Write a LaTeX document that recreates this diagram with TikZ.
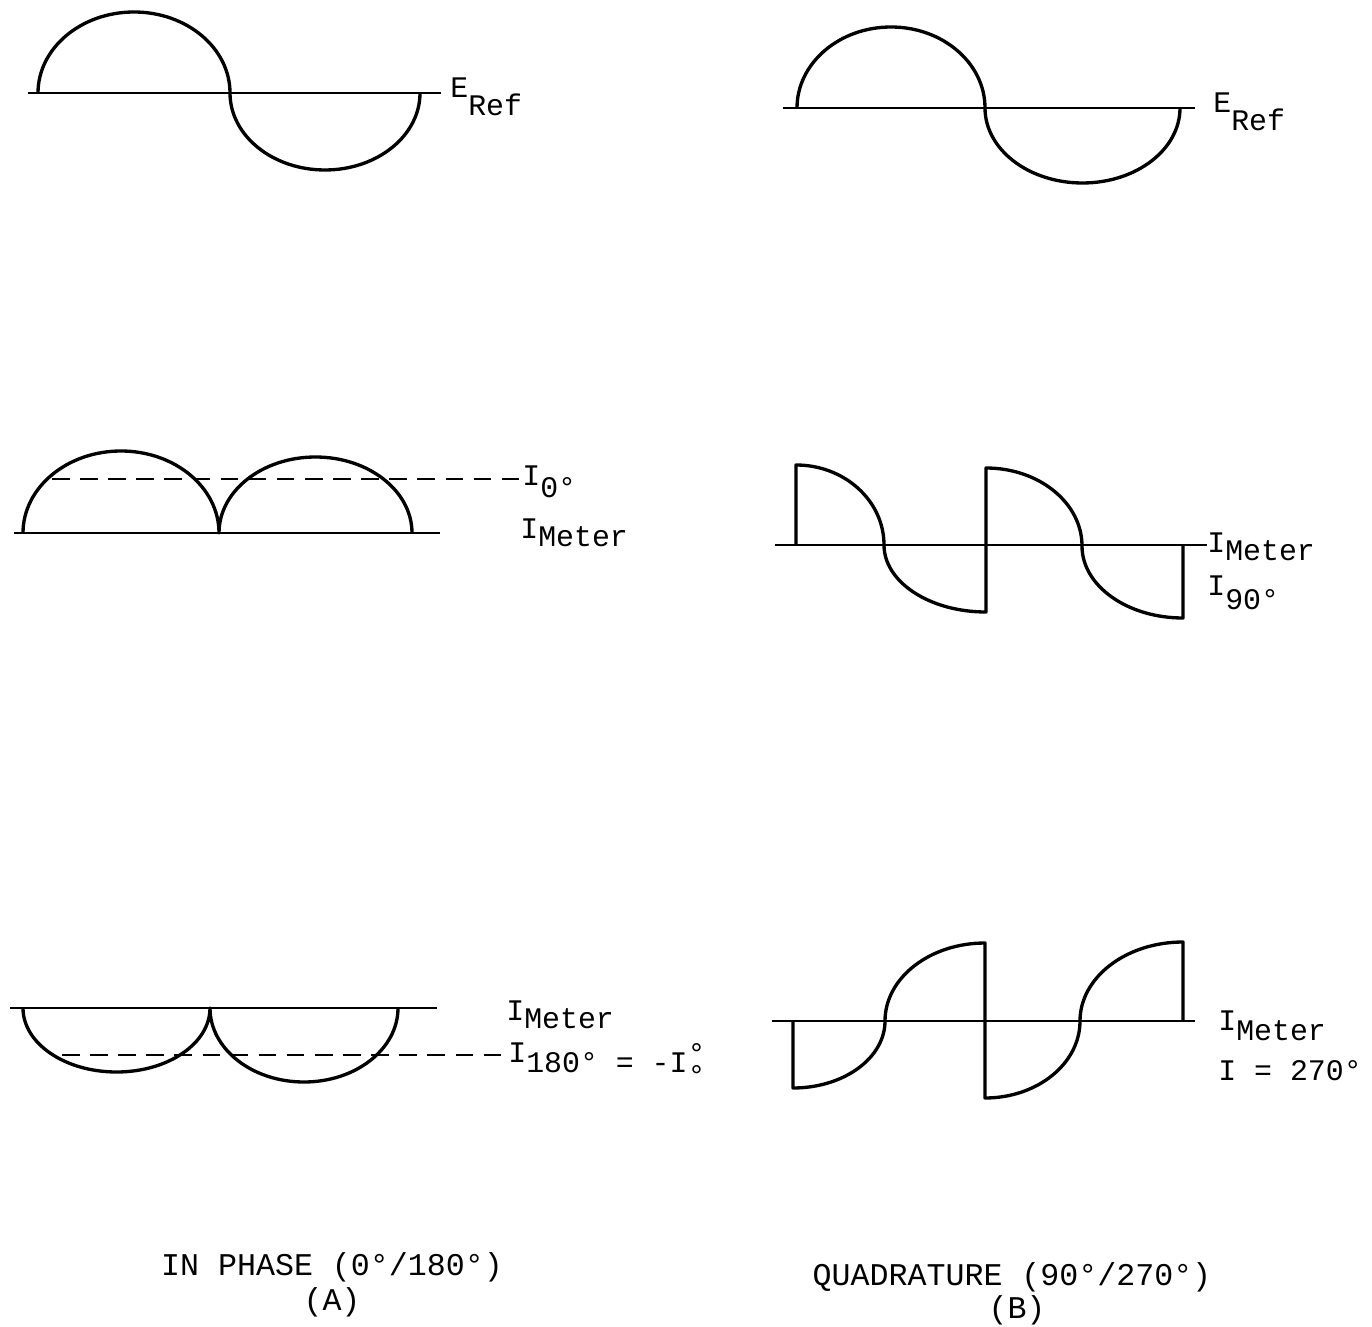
\documentclass[tikz,border=0pt]{standalone}
\usepackage{fontspec}
\setmainfont{Liberation Mono}
\newcommand{\dn}[2][5pt]{\raisebox{-#1}{#2}}
\tikzset{
  wave/.style={line width=1.9pt, line join=round},
  axis/.style={line width=1.5pt},
  meanline/.style={line width=1.6pt, dash pattern=on 10pt off 6pt},
  lbl/.style={anchor=base west, inner sep=0pt, font=\fontsize{17}{20}\selectfont},
  caption/.style={anchor=base, inner sep=0pt, font=\fontsize{18}{22}\selectfont}
}
\begin{document}
\begin{tikzpicture}[x=0.02cm, y=0.02cm]
    \useasboundingbox (0,0) rectangle (1372,-1327);
    % (A) In phase: reference voltage
    \draw[axis] (28,-93) coordinate (ra) -- (441,-93) coordinate (rb);
    \draw[wave] (38,-93) arc[start angle=180, end angle=0, x radius=96, y radius=81]
                         arc[start angle=180, end angle=360, x radius=95, y radius=77];
    \node[lbl] (erefA) at (450,-98) {E\dn[10pt]{Ref}};
    % (A) In phase: meter current, 0 deg
    \draw[axis] (14,-533) coordinate (ma) -- (440,-533) coordinate (mb);
    \draw[wave] (23,-533) arc[start angle=180, end angle=0, x radius=98, y radius=82]
                          arc[start angle=180, end angle=0, x radius=96.5, y radius=76];
    \node[lbl] (izero) at (522,-485) {I\dn[7pt]{0°}};
    \node[lbl] (imeterA) at (520,-538) {I\dn[5pt]{Meter}};
    \coordinate (dzero) at (52,-479);
    \draw[meanline] (dzero) -- (dzero -| izero.west);
    % (A) In phase: meter current, 180 deg
    \draw[axis] (10,-1008) coordinate (na) -- (437,-1008) coordinate (nb);
    \draw[wave] (23,-1008) arc[start angle=180, end angle=360, x radius=93.5, y radius=64]
                           arc[start angle=180, end angle=360, x radius=94, y radius=74];
    \node[lbl] (imeterC) at (506,-1020) {I\dn[5pt]{Meter}};
    \node[lbl] (ieighty) at (508,-1062) {I\dn[6pt]{180° = -I\rlap{\raisebox{5pt}{°}}\raisebox{-0.45em}{°}}};
    \coordinate (deighty) at (62,-1055);
    \draw[meanline] (deighty) -- (deighty -| ieighty.west);
    % (B) Quadrature: reference voltage
    \draw[axis] (783,-108) coordinate (qa) -- (1195,-108) coordinate (qb);
    \draw[wave] (797,-108) arc[start angle=180, end angle=0, x radius=94, y radius=81]
                           arc[start angle=180, end angle=360, x radius=97.5, y radius=75];
    \node[lbl] (erefB) at (1213,-113) {E\dn[10pt]{Ref}};
    % (B) Quadrature: meter current, 90 deg
    \node[lbl] (imeterB) at (1207,-552) {I\dn[5pt]{Meter}};
    \node[lbl] (ininety) at (1207,-595) {I\dn[8pt]{90°}};
    \coordinate (pa) at (775,-545);
    \draw[axis] (pa) -- (pa -| imeterB.west);
    \draw[wave] (796,-545) -- (796,-465)
                arc[start angle=90, end angle=0, x radius=88, y radius=80]
                arc[start angle=180, end angle=270, x radius=102, y radius=67] -- (986,-468)
                arc[start angle=90, end angle=0, x radius=96, y radius=78]
                arc[start angle=180, end angle=270, x radius=101, y radius=72] -- (1183,-545);
    % (B) Quadrature: meter current, 270 deg
    \draw[axis] (772,-1021) coordinate (sa) -- (1195,-1021) coordinate (sb);
    \draw[wave] (793,-1021) -- (793,-1088)
                arc[start angle=270, end angle=360, x radius=92, y radius=67]
                arc[start angle=180, end angle=90, x radius=100, y radius=78] -- (985,-1098)
                arc[start angle=270, end angle=360, x radius=95, y radius=77]
                arc[start angle=180, end angle=90, x radius=103, y radius=79] -- (1183,-1021);
    \node[lbl] (imeterD) at (1218,-1030) {I\dn[6pt]{Meter}};
    \node[lbl] (iseventy) at (1218,-1080) {I = 270°};
    % Captions
    \node[caption] (capA) at (332,-1275) {IN PHASE (0°/180°)};
    \node[caption] (subA) at (332,-1310) {(A)};
    \node[caption] (capB) at (1012,-1285) {QUADRATURE (90°/270°)};
    \node[caption] (subB) at (1017,-1318) {(B)};
\end{tikzpicture}
\end{document}
